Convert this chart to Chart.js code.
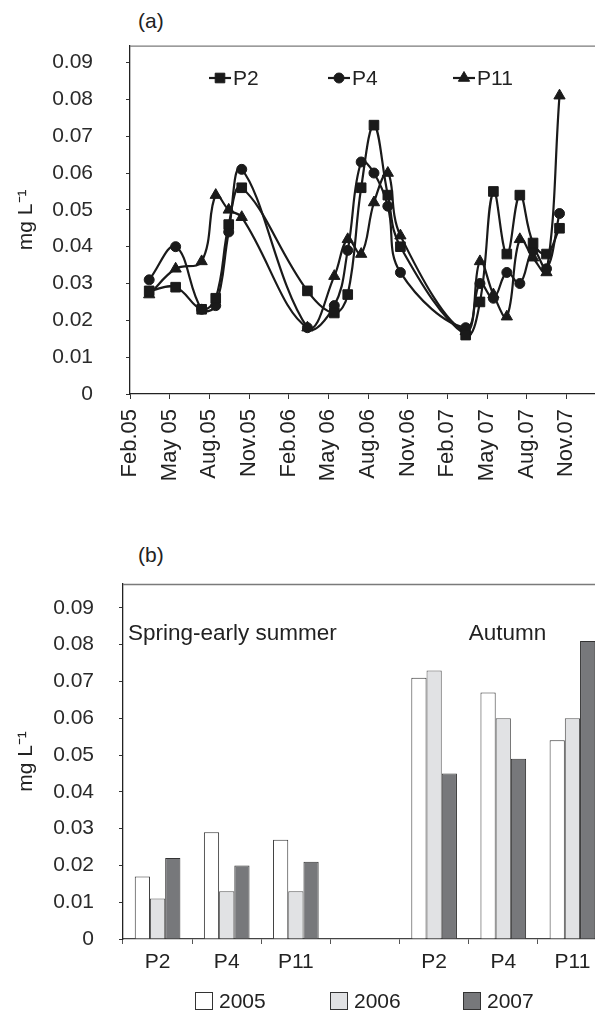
<!DOCTYPE html>
<html>
<head>
<meta charset="utf-8">
<script src="https://cdn.jsdelivr.net/npm/chart.js@4"></script>
<style>
  html, body { margin: 0; padding: 0; background: #fff; overflow: hidden; width: 595px; height: 1012px; }
  .panel { position: absolute; left: 0; }
  .tag { position: absolute; font: 21px "Liberation Sans", Arial, sans-serif; color: #222; }
</style>
</head>
<body>
<div class="tag" style="left:138px; top:9px;">(a)</div>
<div class="panel" style="top:0;"><canvas id="chartA" width="620" height="505"></canvas></div>
<div class="tag" style="left:138px; top:543px;">(b)</div>
<div class="panel" style="top:505px;"><canvas id="chartB" width="620" height="507"></canvas></div>
<script>
// --- (a) sampling dates and concentrations ---
const sampleDates = [
  '2005-03-15', '2005-05-15', '2005-07-14', '2005-08-16', '2005-09-15', '2005-10-15',
  '2006-03-14', '2006-05-15', '2006-06-15', '2006-07-16', '2006-08-15', '2006-09-16', '2006-10-15',
  '2007-03-13', '2007-04-15', '2007-05-16', '2007-06-16', '2007-07-16', '2007-08-16', '2007-09-16', '2007-10-16'
];
const p2Values  = [0.028, 0.029, 0.023, 0.026, 0.046, 0.056, 0.028, 0.022, 0.027, 0.056, 0.073, 0.054, 0.040, 0.016, 0.025, 0.055, 0.038, 0.054, 0.041, 0.038, 0.045];
const p4Values  = [0.031, 0.040, 0.023, 0.024, 0.044, 0.061, 0.018, 0.024, 0.039, 0.063, 0.060, 0.051, 0.033, 0.018, 0.030, 0.026, 0.033, 0.030, 0.039, 0.034, 0.049];
const p11Values = [0.027, 0.034, 0.036, 0.054, 0.050, 0.048, 0.018, 0.032, 0.042, 0.038, 0.052, 0.060, 0.043, 0.017, 0.036, 0.027, 0.021, 0.042, 0.037, 0.033, 0.081];

// x axis: months counted from Feb 2005
const xTickMonths = [0, 3, 6, 9, 12, 15, 18, 21, 24, 27, 30, 33];
const xTickLabels = ['Feb.05', 'May 05', 'Aug.05', 'Nov.05', 'Feb.06', 'May 06', 'Aug.06', 'Nov.06', 'Feb.07', 'May 07', 'Aug.07', 'Nov.07'];
const yTicks = [0, 0.01, 0.02, 0.03, 0.04, 0.05, 0.06, 0.07, 0.08, 0.09];

// --- (b) seasonal bars ---
const barCategories = ['P2', 'P4', 'P11', '', 'P2', 'P4', 'P11'];
const values2005 = [0.017, 0.029, 0.027, null, 0.071, 0.067, 0.054];
const values2006 = [0.011, 0.013, 0.013, null, 0.073, 0.060, 0.060];
const values2007 = [0.022, 0.020, 0.021, null, 0.045, 0.049, 0.081];

const FONT = '"Liberation Sans", Arial, sans-serif';
Chart.defaults.font.family = FONT;
Chart.defaults.font.size = 21;
Chart.defaults.color = '#222';

function monthIndex(d) {
  const [y, m, day] = d.split('-').map(Number);
  const dim = new Date(y, m, 0).getDate();
  return (y - 2005) * 12 + (m - 2) + (day - 1) / dim;
}

function toPoints(values) {
  const pts = [];
  values.forEach((v, i) => { if (v !== null) pts.push({ x: monthIndex(sampleDates[i]), y: v }); });
  return pts;
}

function tickLabel(v) { return v === 0 ? '0' : v.toFixed(2); }

// grey line along the top of the plot
const frameTop = {
  id: 'frameTop',
  afterDraw(chart) {
    const { ctx, chartArea: a } = chart;
    ctx.save();
    ctx.strokeStyle = '#7a7a7a';
    ctx.lineWidth = 1.3;
    ctx.beginPath();
    ctx.moveTo(a.left, a.top + 0.5);
    ctx.lineTo(a.right, a.top + 0.5);
    ctx.stroke();
    ctx.restore();
  }
};

// legend inside the plot, line + marker + label
const lineLegend = {
  id: 'lineLegend',
  afterDraw(chart, args, opts) {
    const ctx = chart.ctx;
    chart.data.datasets.forEach((ds, i) => {
      const x = opts.x[i], y = opts.y;
      ctx.save();
      ctx.strokeStyle = ds.borderColor;
      ctx.lineWidth = 2.2;
      ctx.beginPath();
      ctx.moveTo(x, y);
      ctx.lineTo(x + 22, y);
      ctx.stroke();
      ctx.fillStyle = ds.pointBackgroundColor;
      ctx.strokeStyle = ds.pointBorderColor;
      ctx.lineWidth = 1;
      Chart.helpers.drawPoint(ctx, { pointStyle: ds.pointStyle, radius: ds.pointRadius, rotation: 0, borderWidth: 1 }, x + 11, y);
      ctx.fillStyle = '#222';
      ctx.font = '21px ' + FONT;
      ctx.textBaseline = 'middle';
      ctx.fillText(ds.label, x + 24, y + 1);
      ctx.restore();
    });
  }
};

// box legend under the bar chart, and season captions
const boxLegend = {
  id: 'boxLegend',
  afterDraw(chart, args, opts) {
    const ctx = chart.ctx;
    chart.data.datasets.forEach((ds, i) => {
      const x = opts.x[i], y = opts.y;
      ctx.save();
      ctx.fillStyle = ds.backgroundColor;
      ctx.fillRect(x, y - 9, 18, 18);
      ctx.strokeStyle = '#333';
      ctx.lineWidth = 1;
      ctx.strokeRect(x + 0.5, y - 8.5, 17, 17);
      ctx.fillStyle = '#222';
      ctx.font = '21px ' + FONT;
      ctx.textBaseline = 'middle';
      ctx.fillText(ds.label, x + 24, y + 1);
      ctx.restore();
    });
    const xs = chart.scales.x, ys = chart.scales.y;
    ctx.save();
    ctx.fillStyle = '#222';
    ctx.font = '22.5px ' + FONT;
    ctx.textBaseline = 'middle';
    ctx.fillText('Spring-early summer', chart.chartArea.left + 5, ys.getPixelForValue(0.083));
    ctx.fillText('Autumn', xs.getPixelForValue(4.5), ys.getPixelForValue(0.083));
    ctx.restore();
  }
};

const lineColor = '#1a1a1a';
function lineSet(label, values, style, radius) {
  return {
    label: label,
    data: toPoints(values),
    borderColor: lineColor,
    borderWidth: 2.2,
    pointStyle: style,
    pointRadius: radius,
    pointBackgroundColor: lineColor,
    pointBorderColor: lineColor,
    pointBorderWidth: 1,
    tension: 0.4,
    fill: false
  };
}

new Chart(document.getElementById('chartA'), {
  type: 'line',
  data: {
    datasets: [
      lineSet('P2', p2Values, 'rect', 6.8),
      lineSet('P4', p4Values, 'circle', 5),
      lineSet('P11', p11Values, 'triangle', 6.5)
    ]
  },
  options: {
    responsive: false,
    animation: false,
    devicePixelRatio: 1,
    layout: { padding: { top: 44, right: 14, left: 0, bottom: 0 } },
    plugins: {
      legend: { display: false },
      tooltip: { enabled: false },
      lineLegend: { x: [209, 328, 453], y: 78 }
    },
    scales: {
      x: {
        type: 'linear',
        min: 0,
        max: 36,
        afterFit: s => { s.height = 111; },
        afterBuildTicks: s => { s.ticks = xTickMonths.map(v => ({ value: v })); },
        ticks: {
          minRotation: 90, maxRotation: 90, padding: 10, autoSkip: false,
          font: { size: 22 },
          callback: (v, i) => xTickLabels[i]
        },
        grid: { drawOnChartArea: false, drawTicks: true, tickLength: 5, color: '#333' },
        border: { display: true, color: '#222', width: 1.3 }
      },
      y: {
        min: 0,
        max: 0.0946,
        afterFit: s => { s.width = 130; },
        afterBuildTicks: s => { s.ticks = yTicks.map(v => ({ value: v })); },
        ticks: { padding: 33, color: '#2a2a2a', callback: v => tickLabel(v) },
        grid: { drawOnChartArea: false, drawTicks: true, tickLength: 4, color: '#333' },
        border: { display: true, color: '#222', width: 1.3 },
        title: { display: true, text: 'mg L\u207B\u00B9', padding: { top: 14, bottom: 0 }, color: '#222' }
      }
    }
  },
  plugins: [frameTop, lineLegend]
});

function barSet(label, values, fill, edge) {
  return {
    label: label,
    data: values,
    backgroundColor: fill,
    borderColor: edge,
    borderWidth: 1,
    barPercentage: 1,
    categoryPercentage: 0.66
  };
}

new Chart(document.getElementById('chartB'), {
  type: 'bar',
  data: {
    labels: barCategories,
    datasets: [
      barSet('2005', values2005, '#ffffff', '#333333'),
      barSet('2006', values2006, '#e1e2e4', '#555555'),
      barSet('2007', values2007, '#77787b', '#333333')
    ]
  },
  options: {
    responsive: false,
    animation: false,
    devicePixelRatio: 1,
    layout: { padding: { top: 79, right: 13, left: 0, bottom: 0 } },
    plugins: {
      legend: { display: false },
      tooltip: { enabled: false },
      boxLegend: { x: [195, 330, 463], y: 496 }
    },
    scales: {
      x: {
        afterFit: s => { s.height = 73; },
        ticks: { padding: 6, color: '#222' },
        grid: { drawOnChartArea: false, drawTicks: true, tickLength: 5, color: '#555' },
        border: { display: true, color: '#444', width: 1.3 }
      },
      y: {
        min: 0,
        max: 0.0965,
        afterFit: s => { s.width = 123; },
        afterBuildTicks: s => { s.ticks = yTicks.map(v => ({ value: v })); },
        ticks: { padding: 25, color: '#2a2a2a', callback: v => tickLabel(v) },
        grid: { drawOnChartArea: false, drawTicks: true, tickLength: 4, color: '#333' },
        border: { display: true, color: '#222', width: 1.3 },
        title: { display: true, text: 'mg L\u207B\u00B9', padding: { top: 14, bottom: 0 }, color: '#222' }
      }
    }
  },
  plugins: [frameTop, boxLegend]
});
</script>
</body>
</html>
